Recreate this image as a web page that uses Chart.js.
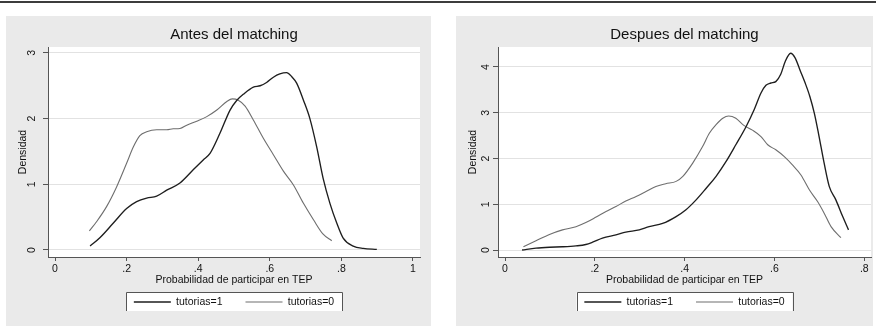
<!DOCTYPE html>
<html>
<head>
<meta charset="utf-8">
<script src="https://cdn.jsdelivr.net/npm/chart.js@4"></script>
<style>
  body { margin: 0; background: #fff; width: 876px; height: 332px; overflow: hidden; position: relative; }
  #topline { position: absolute; left: 0; top: 1px; width: 876px; height: 2px; background: #3c3c3c; }
  .panel { position: absolute; top: 16px; height: 310px; background: #eaeaea; }
  canvas { display: block; }
</style>
</head>
<body>
<div id="topline"></div>
<div class="panel" style="left:6px;width:425px"><canvas id="antes" width="425" height="310"></canvas></div>
<div class="panel" style="left:456px;width:417px"><canvas id="despues" width="417" height="310"></canvas></div>
<script>
// texts
var seriesLabels = ["tutorias=1", "tutorias=0"];
var xTitle = "Probabilidad de participar en TEP";
var yTitle = "Densidad";

// Antes del matching
var antesX1 = [0.098,0.126,0.163,0.2,0.228,0.256,0.284,0.312,0.349,0.386,0.414,0.433,0.461,0.489,0.508,0.526,0.554,0.573,0.591,0.61,0.628,0.647,0.661,0.675,0.694,0.712,0.731,0.749,0.768,0.787,0.805,0.833,0.861,0.899];
var antesY1 = [0.06,0.19,0.41,0.63,0.735,0.79,0.82,0.91,1.02,1.22,1.37,1.47,1.78,2.13,2.28,2.37,2.48,2.50,2.55,2.63,2.68,2.70,2.64,2.54,2.28,2.0,1.57,1.09,0.71,0.41,0.18,0.06,0.025,0.01];
var antesX0 = [0.096,0.116,0.144,0.172,0.2,0.219,0.237,0.256,0.284,0.312,0.33,0.349,0.368,0.396,0.424,0.452,0.48,0.495,0.512,0.531,0.554,0.582,0.61,0.638,0.666,0.694,0.722,0.749,0.773];
var antesY0 = [0.29,0.43,0.66,0.96,1.32,1.57,1.74,1.80,1.83,1.83,1.845,1.85,1.90,1.96,2.03,2.13,2.26,2.30,2.28,2.19,1.98,1.70,1.45,1.20,0.99,0.71,0.46,0.24,0.14];

// Despues del matching
var despX1 = [0.038,0.069,0.099,0.128,0.158,0.180,0.195,0.217,0.247,0.269,0.299,0.321,0.351,0.381,0.403,0.425,0.448,0.470,0.492,0.514,0.537,0.555,0.570,0.581,0.592,0.603,0.614,0.624,0.636,0.646,0.657,0.668,0.679,0.689,0.698,0.711,0.722,0.737,0.752,0.765];
var despY1 = [0.0,0.04,0.06,0.07,0.09,0.12,0.17,0.26,0.33,0.39,0.44,0.51,0.58,0.73,0.88,1.09,1.35,1.61,1.93,2.30,2.70,3.07,3.43,3.60,3.65,3.68,3.84,4.12,4.30,4.20,3.93,3.66,3.35,2.98,2.55,1.88,1.39,1.09,0.73,0.44];
var despX0 = [0.041,0.069,0.099,0.128,0.158,0.180,0.203,0.225,0.247,0.269,0.292,0.314,0.336,0.358,0.381,0.396,0.418,0.440,0.455,0.470,0.485,0.498,0.514,0.531,0.551,0.570,0.585,0.603,0.622,0.640,0.659,0.678,0.696,0.711,0.726,0.748];
var despY0 = [0.07,0.20,0.34,0.44,0.51,0.60,0.72,0.84,0.95,1.07,1.17,1.28,1.39,1.45,1.50,1.61,1.90,2.26,2.55,2.74,2.88,2.93,2.88,2.73,2.62,2.48,2.30,2.19,2.04,1.86,1.64,1.31,1.06,0.80,0.51,0.27];

var FONT = "'Liberation Sans', Arial, sans-serif";
var TXT = "#111";
var AXIS = "#555";

function pts(xs, ys) {
  return xs.map(function(x, i){ return {x: x, y: ys[i]}; });
}

function fmt(v) {
  v = Math.round(v * 10) / 10;
  if (v === 0 || v === 1) return String(v);
  return String(v).replace(/^0/, "");
}

var panelBg = {
  id: "panelBg",
  beforeDraw: function(chart) {
    var c = chart.ctx, a = chart.chartArea;
    c.save();
    c.fillStyle = "#fff";
    c.fillRect(a.left, a.top, a.right - a.left, a.bottom - a.top);
    // legend frame (open at the bottom, as in the picture)
    var hb = chart.legend.legendHitBoxes;
    if (hb && hb.length) {
      var cx = (a.left + a.right) / 2;
      var cy = hb[0].top + hb[0].height / 2;
      var l = cx - 108, r = cx + 108, t = Math.round(cy - 10) + 0.5, b = cy + 9;
      c.fillRect(l, t, r - l, b - t);
      c.strokeStyle = AXIS;
      c.lineWidth = 1;
      c.beginPath();
      c.moveTo(Math.round(l) + 0.5, b);
      c.lineTo(Math.round(l) + 0.5, t);
      c.lineTo(Math.round(r) + 0.5, t);
      c.lineTo(Math.round(r) + 0.5, b);
      c.stroke();
    }
    c.restore();
  }
};

function makeChart(id, title, x1, y1, x0, y0, xr, yr, padRight, yTickPad) {
  return new Chart(document.getElementById(id), {
    type: "line",
    data: {
      datasets: [
        { label: seriesLabels[0], data: pts(x1, y1), borderColor: "#1e1e1e", borderWidth: 1.35,
          pointRadius: 0, cubicInterpolationMode: "monotone", fill: false },
        { label: seriesLabels[1], data: pts(x0, y0), borderColor: "#6e6e6e", borderWidth: 1.1,
          pointRadius: 0, cubicInterpolationMode: "monotone", fill: false }
      ]
    },
    options: {
      responsive: false,
      animation: false,
      devicePixelRatio: 1,
      layout: { padding: { left: 0, right: padRight, top: 0, bottom: 8.75 } },
      plugins: {
        title: { display: true, text: title, fullSize: false, color: TXT,
                 font: { family: FONT, size: 15, weight: "normal" }, padding: { top: 10.3, bottom: 2.7 } },
        legend: { position: "bottom", fullSize: false,
                  labels: { usePointStyle: true, pointStyle: "line", pointStyleWidth: 37, padding: 23,
                            color: TXT, font: { family: FONT, size: 10.5 } } },
        tooltip: { enabled: false }
      },
      scales: {
        x: {
          type: "linear", min: xr[0], max: xr[1],
          ticks: { stepSize: 0.2, includeBounds: false, padding: 2, maxRotation: 0, autoSkip: false,
                   color: TXT, font: { family: FONT, size: 10.5 }, callback: fmt },
          grid: { drawOnChartArea: false, tickLength: 4, tickColor: AXIS },
          border: { color: AXIS, width: 1 },
          title: { display: true, text: xTitle, color: TXT, font: { family: FONT, size: 10.5 },
                   padding: { top: 0, bottom: -12.55 } },
          afterFit: function(s) { s.height = 16.75; }
        },
        y: {
          type: "linear", min: yr[0], max: yr[1],
          ticks: { stepSize: 1, includeBounds: false, minRotation: 90, maxRotation: 90, crossAlign: "center",
                   padding: yTickPad, color: TXT, font: { family: FONT, size: 10.5 } },
          grid: { color: "#e2e2e2", tickLength: 5, tickColor: AXIS },
          border: { color: AXIS, width: 1 },
          title: { display: true, text: yTitle, color: TXT, font: { family: FONT, size: 10.5 },
                   padding: { top: 10.7, bottom: 0 } },
          afterFit: function(s) { s.width = 42; }
        }
      }
    },
    plugins: [panelBg]
  });
}

makeChart("antes", "Antes del matching", antesX1, antesY1, antesX0, antesY0,
          [-0.0196, 1.0196], [-0.107, 3.09], 11, 8);
makeChart("despues", "Despues del matching", despX1, despY1, despX0, despY0,
          [-0.0156, 0.815], [-0.153, 4.437], 2, 3.6);
</script>
</body>
</html>
